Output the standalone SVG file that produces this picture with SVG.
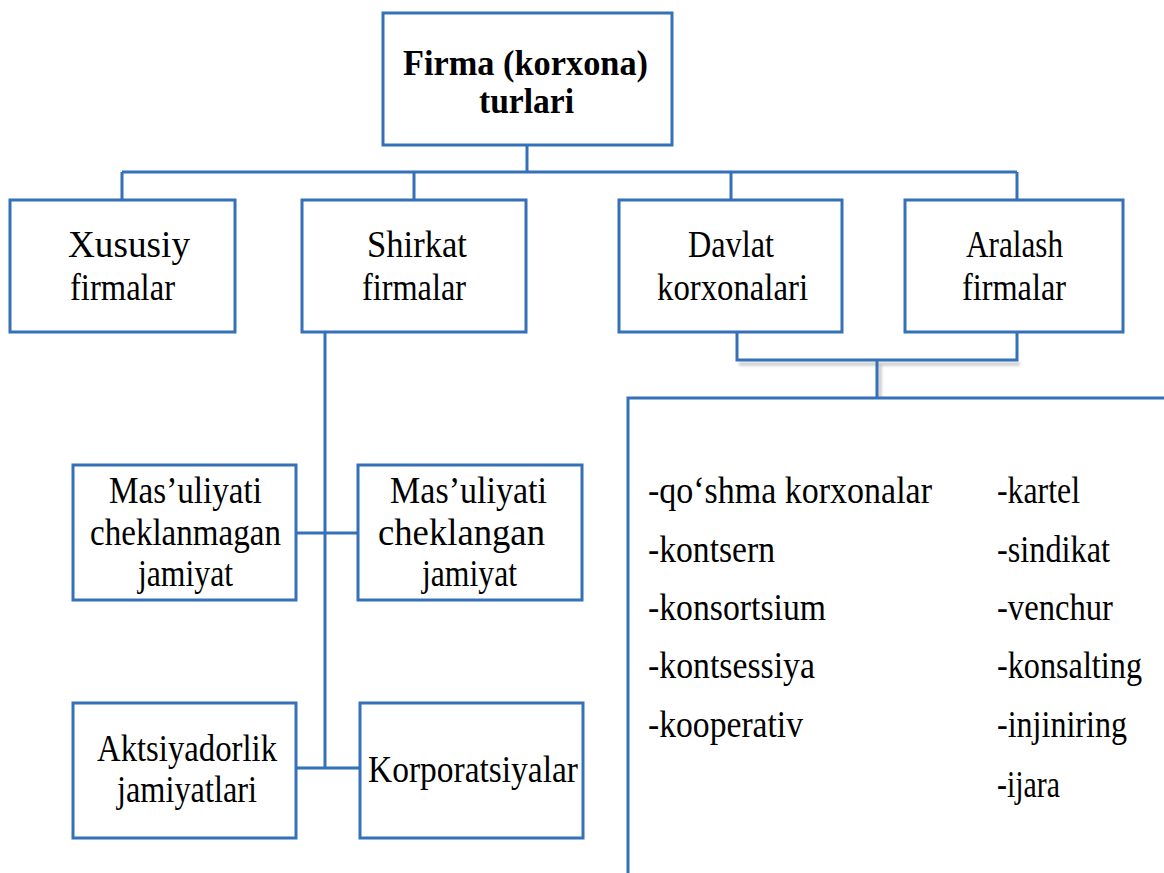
<svg xmlns="http://www.w3.org/2000/svg" width="1164" height="873" viewBox="0 0 1164 873">
  <defs>
    <style>
      .box { fill: #ffffff; stroke: #3571b9; stroke-width: 3; }
      .ln { fill: none; stroke: #3571b9; stroke-width: 3; }
      .shadow { fill: none; stroke: #9a9a9a; stroke-width: 3; opacity: 0.6; }
      text { font-family: "Liberation Serif", "Times New Roman", serif; font-size: 37px; fill: #000000; }
      .bold { font-weight: bold; font-size: 36px; }
    </style>
    <filter id="soft" x="-10%" y="-50%" width="120%" height="200%">
      <feGaussianBlur stdDeviation="1.5"/>
    </filter>
  </defs>
  <rect width="1164" height="873" fill="#ffffff"/>

  <!-- connectors -->
  <g id="connectors">
    <path class="ln" d="M527 145 V172 M122 172 H1017 M122 172 V200 M414 172 V200 M731 172 V200 M1017 172 V200"/>
    <path class="ln" d="M325 332 V768 M296 533 H358 M296 768 H360"/>
    <path class="shadow" filter="url(#soft)" d="M739 364 H1020 M880 364 V400"/>
    <path class="ln" d="M737 332 V360 H1017 V332 M877 360 V398"/>
  </g>

  <g id="root">
    <rect class="box" x="383" y="13" width="289" height="132"/>
    <text class="bold" x="403" y="75" textLength="245" lengthAdjust="spacingAndGlyphs">Firma (korxona)</text>
    <text class="bold" x="479" y="113" textLength="95" lengthAdjust="spacingAndGlyphs">turlari</text>
  </g>

  <g id="xususiy">
    <rect class="box" x="10" y="200" width="225" height="132"/>
    <text x="68" y="257" textLength="122" lengthAdjust="spacingAndGlyphs">Xususiy</text>
    <text x="70" y="300" textLength="105" lengthAdjust="spacingAndGlyphs">firmalar</text>
  </g>

  <g id="shirkat">
    <rect class="box" x="302" y="200" width="224" height="132"/>
    <text x="367" y="257" textLength="100" lengthAdjust="spacingAndGlyphs">Shirkat</text>
    <text x="362" y="300" textLength="104" lengthAdjust="spacingAndGlyphs">firmalar</text>
  </g>

  <g id="davlat">
    <rect class="box" x="619" y="200" width="223" height="132"/>
    <text x="688" y="257" textLength="86" lengthAdjust="spacingAndGlyphs">Davlat</text>
    <text x="657" y="300" textLength="151" lengthAdjust="spacingAndGlyphs">korxonalari</text>
  </g>

  <g id="aralash">
    <rect class="box" x="905" y="200" width="218" height="132"/>
    <text x="966" y="257" textLength="97" lengthAdjust="spacingAndGlyphs">Aralash</text>
    <text x="962" y="300" textLength="104" lengthAdjust="spacingAndGlyphs">firmalar</text>
  </g>

  <g id="mchj-cheklanmagan">
    <rect class="box" x="73" y="465" width="223" height="135"/>
    <text x="109" y="503" textLength="153" lengthAdjust="spacingAndGlyphs">Mas’uliyati</text>
    <text x="90" y="545" textLength="191" lengthAdjust="spacingAndGlyphs">cheklanmagan</text>
    <text x="138" y="586" textLength="95" lengthAdjust="spacingAndGlyphs">jamiyat</text>
  </g>

  <g id="mchj-cheklangan">
    <rect class="box" x="358" y="465" width="224" height="135"/>
    <text x="390" y="503" textLength="157" lengthAdjust="spacingAndGlyphs">Mas’uliyati</text>
    <text x="378" y="545" textLength="167" lengthAdjust="spacingAndGlyphs">cheklangan</text>
    <text x="422" y="586" textLength="95" lengthAdjust="spacingAndGlyphs">jamiyat</text>
  </g>

  <g id="aktsiyadorlik">
    <rect class="box" x="73" y="703" width="223" height="135"/>
    <text x="97" y="761" textLength="180" lengthAdjust="spacingAndGlyphs">Aktsiyadorlik</text>
    <text x="117" y="802" textLength="140" lengthAdjust="spacingAndGlyphs">jamiyatlari</text>
  </g>

  <g id="korporatsiyalar">
    <rect class="box" x="360" y="703" width="223" height="135"/>
    <text x="368" y="782" textLength="210" lengthAdjust="spacingAndGlyphs">Korporatsiyalar</text>
  </g>

  <g id="aralash-turlari">
    <rect class="box" x="628" y="398" width="560" height="500"/>
    <text x="648" y="503" textLength="284" lengthAdjust="spacingAndGlyphs">-qo‘shma korxonalar</text>
    <text x="648" y="562" textLength="127" lengthAdjust="spacingAndGlyphs">-kontsern</text>
    <text x="648" y="620" textLength="178" lengthAdjust="spacingAndGlyphs">-konsortsium</text>
    <text x="648" y="678" textLength="167" lengthAdjust="spacingAndGlyphs">-kontsessiya</text>
    <text x="648" y="737" textLength="155" lengthAdjust="spacingAndGlyphs">-kooperativ</text>
    <text x="997" y="503" textLength="83" lengthAdjust="spacingAndGlyphs">-kartel</text>
    <text x="997" y="562" textLength="113" lengthAdjust="spacingAndGlyphs">-sindikat</text>
    <text x="997" y="620" textLength="116" lengthAdjust="spacingAndGlyphs">-venchur</text>
    <text x="997" y="678" textLength="145" lengthAdjust="spacingAndGlyphs">-konsalting</text>
    <text x="997" y="737" textLength="130" lengthAdjust="spacingAndGlyphs">-injiniring</text>
    <text x="997" y="797" textLength="63" lengthAdjust="spacingAndGlyphs">-ijara</text>
  </g>
</svg>
